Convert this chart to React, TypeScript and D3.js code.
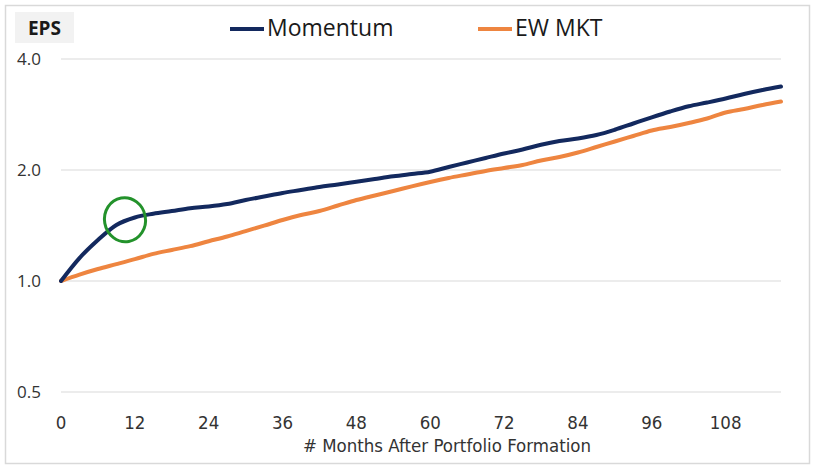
import * as d3 from "d3";
import { useEffect } from "react";

const months = [
  0, 3, 6, 9, 12, 15, 18, 21, 24, 27, 30, 33, 36, 39, 42, 45, 48, 51, 54, 57,
  60, 63, 66, 69, 72, 75, 78, 81, 84, 87, 90, 93, 96, 99, 102, 105, 108, 111,
  114, 117,
];

const momentum = [
  1.0, 1.154, 1.292, 1.419, 1.487, 1.522, 1.548, 1.576, 1.592, 1.617, 1.658,
  1.695, 1.733, 1.765, 1.799, 1.827, 1.859, 1.891, 1.923, 1.951, 1.979, 2.038,
  2.096, 2.156, 2.217, 2.273, 2.342, 2.397, 2.435, 2.488, 2.572, 2.674, 2.779,
  2.882, 2.977, 3.048, 3.125, 3.215, 3.296, 3.369,
];

const ewMkt = [
  1.0, 1.041, 1.078, 1.111, 1.146, 1.185, 1.214, 1.243, 1.282, 1.32, 1.366,
  1.413, 1.464, 1.51, 1.548, 1.602, 1.658, 1.706, 1.754, 1.806, 1.856, 1.903,
  1.945, 1.988, 2.025, 2.063, 2.122, 2.169, 2.231, 2.309, 2.39, 2.473, 2.559,
  2.616, 2.682, 2.759, 2.864, 2.928, 3.001, 3.067,
];

const xTicks = [0, 12, 24, 36, 48, 60, 72, 84, 96, 108];
const yTicks = [0.5, 1, 2, 4];

const NAVY = "#13295e";
const ORANGE = "#ee8540";
const GRID = "#d9d9d9";
const TEXT = "#333333";
const CONDENSED =
  "'Liberation Sans Narrow', 'DejaVu Sans Condensed', 'Roboto Condensed', 'Arial Narrow', sans-serif";
const SANS = "'Open Sans', 'Noto Sans', sans-serif";

export default function App() {
  useEffect(() => {
    document.body.style.margin = "0";
  }, []);

  const width = 816;
  const height = 471;

  const x = d3.scaleLinear().domain([0, 117]).range([61, 781]);
  const y = d3.scaleLog().base(2).domain([0.5, 4]).range([392, 59]);

  const line = d3
    .line<number>()
    .x((_, i) => x(months[i]))
    .y((d) => y(d))
    .curve(d3.curveMonotoneX);

  const [x0, x1] = x.range();

  return (
    <svg width={width} height={height} style={{ display: "block" }}>
      <rect x={0} y={0} width={width} height={height} fill="#fff" />
      {/* outer frame */}
      <rect
        x={5.5}
        y={5.5}
        width={804}
        height={458}
        fill="none"
        stroke={GRID}
        strokeWidth={1.5}
      />

      {/* EPS label box */}
      <rect x={15} y={12} width={59} height={31} fill="#f2f2f2" />
      <text
        x={44.5}
        y={35}
        textAnchor="middle"
        fontFamily={SANS}
        fontWeight={700}
        fontSize={19}
        fill="#1a1a1a"
      >
        EPS
      </text>

      {/* legend */}
      <line x1={230} x2={264} y1={29} y2={29} stroke={NAVY} strokeWidth={4} />
      <text x={267} y={36} fontFamily={SANS} fontSize={23} fill="#1a1a1a">
        Momentum
      </text>
      <line x1={478} x2={512} y1={29} y2={29} stroke={ORANGE} strokeWidth={4} />
      <text x={515} y={36} fontFamily={SANS} fontSize={23} fill="#1a1a1a">
        EW MKT
      </text>

      {/* gridlines + y labels */}
      {yTicks.map((t) => (
        <g key={t}>
          <line
            x1={x0}
            x2={x1}
            y1={y(t)}
            y2={y(t)}
            stroke={GRID}
            strokeWidth={1.2}
          />
          <text
            x={41}
            y={y(t) + 6}
            textAnchor="end"
            fontFamily={SANS}
            fontSize={17}
            fill={TEXT}
          >
            {t.toFixed(1)}
          </text>
        </g>
      ))}

      {/* x labels */}
      {xTicks.map((t) => (
        <text
          key={t}
          x={x(t)}
          y={429}
          textAnchor="middle"
          fontFamily={CONDENSED}
          fontSize={18.5}
          fill={TEXT}
        >
          {t}
        </text>
      ))}
      <text
        x={447}
        y={452}
        textAnchor="middle"
        fontFamily={CONDENSED}
        fontSize={18.5}
        fill={TEXT}
      >
        # Months After Portfolio Formation
      </text>

      {/* series */}
      <path
        d={line(ewMkt) ?? ""}
        fill="none"
        stroke={ORANGE}
        strokeWidth={4}
        strokeLinejoin="round"
        strokeLinecap="round"
      />
      <path
        d={line(momentum) ?? ""}
        fill="none"
        stroke={NAVY}
        strokeWidth={4}
        strokeLinejoin="round"
        strokeLinecap="round"
      />

      {/* hand-drawn annotation circle */}
      <ellipse
        cx={x(10.4)}
        cy={y(1.466)}
        rx={20.5}
        ry={22}
        fill="none"
        stroke="#23922b"
        strokeWidth={3}
        transform={`rotate(-10 ${x(10.4)} ${y(1.466)})`}
      />
    </svg>
  );
}
